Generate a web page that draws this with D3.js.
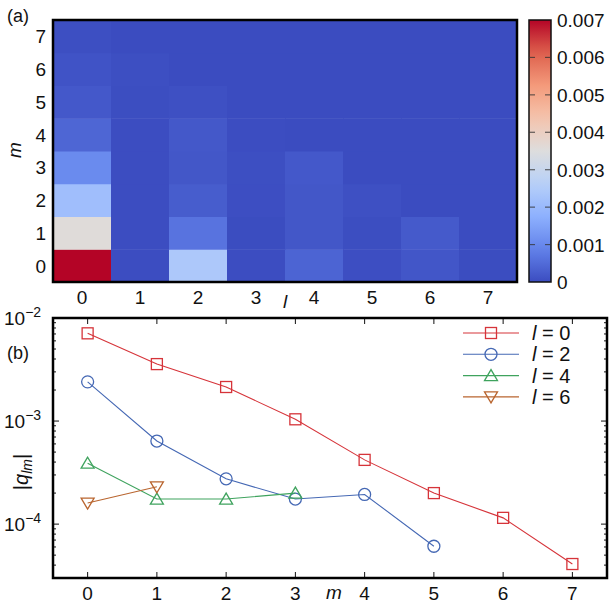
<!DOCTYPE html>
<html>
<head>
<meta charset="utf-8">
<script src="https://cdn.jsdelivr.net/npm/d3@7"></script>
<style>
  body { margin: 0; background: #fff; }
  text { font-family: "Liberation Sans", Arial, sans-serif; fill: #111; }
</style>
</head>
<body>
<div id="chart"></div>
<script>
// ---- data ----
var lValues = [0, 1, 2, 3, 4, 5, 6, 7];
var mValues = [0, 1, 2, 3, 4, 5, 6, 7];

// |q_lm| for even l, index = m
var q_l0 = [7.1e-3, 3.57e-3, 2.14e-3, 1.04e-3, 4.2e-4, 2.0e-4, 1.15e-4, 4.1e-5];
var q_l2 = [2.4e-3, 6.4e-4, 2.75e-4, 1.75e-4, 1.94e-4, 6.1e-5];
var q_l4 = [3.9e-4, 1.75e-4, 1.75e-4, 2.0e-4];
var q_l6 = [1.6e-4, 2.3e-4];
// odd l are tiny (estimated from heat map shades)
var q_l1 = [2e-5, 2e-5, 2e-5, 2e-5, 2e-5, 3e-5, 5e-5];
var q_l3 = [2e-5, 1e-5, 4e-5, 5e-5, 2e-5];
var q_l5 = [4e-5, 3e-5, 6e-5];
var q_l7 = [1e-5];

var colorbarTicks = [0, 0.001, 0.002, 0.003, 0.004, 0.005, 0.006, 0.007];
var logTicks = [1e-4, 1e-3, 1e-2];
var logExps = ["−4", "−3", "−2"];

var series = [
  {l: 0, vals: q_l0, color: "#d6343a", shape: "square"},
  {l: 2, vals: q_l2, color: "#4568b4", shape: "circle"},
  {l: 4, vals: q_l4, color: "#3fa35e", shape: "up"},
  {l: 6, vals: q_l6, color: "#b9652f", shape: "down"}
];

var allRows = [q_l0, q_l1, q_l2, q_l3, q_l4, q_l5, q_l6, q_l7];

var FS = 19;

var svg = d3.select("#chart").append("svg")
  .attr("width", 612).attr("height", 604);

// ---- (a) heat map ----
var hm = {left: 53, right: 517, top: 20, bottom: 282};

var x = d3.scaleBand().domain(lValues).range([hm.left, hm.right]);
var y = d3.scaleBand().domain(mValues).range([hm.bottom, hm.top]);

// matplotlib-style coolwarm
var coolwarm = d3.scaleLinear()
  .domain([0, 0.125, 0.25, 0.375, 0.5, 0.625, 0.75, 0.875, 1])
  .range(["rgb(59,76,192)", "rgb(98,130,234)", "rgb(141,176,254)", "rgb(184,208,249)",
          "rgb(221,221,221)", "rgb(245,196,173)", "rgb(244,154,123)", "rgb(222,96,77)", "rgb(180,4,38)"])
  .interpolate(d3.interpolateRgb)
  .clamp(true);
var color = d3.scaleLinear().domain([0, 0.007]).range([0, 1]).clamp(true);

var cells = [];
lValues.forEach(function(l) {
  mValues.forEach(function(m) {
    var v = allRows[l][m];
    cells.push({l: l, m: m, v: v === undefined ? 0 : v});
  });
});

svg.append("g").selectAll("rect")
  .data(cells)
  .enter().append("rect")
  .attr("x", function(d) { return x(d.l); })
  .attr("y", function(d) { return y(d.m); })
  .attr("width", x.bandwidth() + 0.5)
  .attr("height", y.bandwidth() + 0.5)
  .attr("fill", function(d) { return coolwarm(color(d.v)); });

svg.append("rect")
  .attr("x", hm.left).attr("y", hm.top)
  .attr("width", hm.right - hm.left).attr("height", hm.bottom - hm.top)
  .attr("fill", "none").attr("stroke", "#000").attr("stroke-width", 2.5);

svg.append("g").selectAll("text")
  .data(lValues).enter().append("text")
  .attr("x", function(d) { return x(d) + x.bandwidth() / 2; })
  .attr("y", 304)
  .attr("text-anchor", "middle")
  .attr("font-size", FS)
  .text(function(d) { return d; });

svg.append("g").selectAll("text")
  .data(mValues).enter().append("text")
  .attr("x", 46)
  .attr("y", function(d) { return y(d) + y.bandwidth() / 2 + 7; })
  .attr("text-anchor", "end")
  .attr("font-size", FS)
  .text(function(d) { return d; });

svg.append("text").attr("x", 283).attr("y", 308)
  .attr("font-size", FS).attr("font-style", "italic").text("l");
svg.append("text")
  .attr("transform", "translate(21,150) rotate(-90)")
  .attr("text-anchor", "middle")
  .attr("font-size", FS).attr("font-style", "italic").text("m");
svg.append("text").attr("x", 7).attr("y", 22).attr("font-size", 18).text("(a)");

// colorbar
var cb = {left: 529, right: 551, top: 20, bottom: 282};
var cbScale = d3.scaleLinear().domain([0, 0.007]).range([cb.bottom, cb.top]);
var defs = svg.append("defs");
var grad = defs.append("linearGradient").attr("id", "cw")
  .attr("x1", 0).attr("y1", 1).attr("x2", 0).attr("y2", 0);
d3.range(0, 1.0001, 0.05).forEach(function(t) {
  grad.append("stop").attr("offset", t).attr("stop-color", coolwarm(t));
});
svg.append("rect")
  .attr("x", cb.left).attr("y", cb.top)
  .attr("width", cb.right - cb.left).attr("height", cb.bottom - cb.top)
  .attr("fill", "url(#cw)").attr("stroke", "#111").attr("stroke-width", 1.5);

var cbTicks = svg.append("g");
cbTicks.selectAll("line.l").data(colorbarTicks.slice(1, -1)).enter().append("line")
  .attr("x1", cb.left).attr("x2", cb.left + 6)
  .attr("y1", function(d) { return cbScale(d); }).attr("y2", function(d) { return cbScale(d); })
  .attr("stroke", "#333").attr("stroke-opacity", 0.75).attr("stroke-width", 1.2);
cbTicks.selectAll("line.r").data(colorbarTicks.slice(1, -1)).enter().append("line")
  .attr("x1", cb.right - 6).attr("x2", cb.right)
  .attr("y1", function(d) { return cbScale(d); }).attr("y2", function(d) { return cbScale(d); })
  .attr("stroke", "#333").attr("stroke-opacity", 0.75).attr("stroke-width", 1.2);
cbTicks.selectAll("text").data(colorbarTicks).enter().append("text")
  .attr("x", 557)
  .attr("y", function(d) { return cbScale(d) + 7; })
  .attr("font-size", FS)
  .text(function(d) { return d === 0 ? "0" : d3.format(".3f")(d); });

// ---- (b) log plot ----
var lp = {left: 53, right: 607, top: 318, bottom: 578};
var xm = d3.scaleLinear().domain([-0.5, 7.5]).range([lp.left, lp.right]);
var yq = d3.scaleLog().domain([3e-5, 1e-2]).range([lp.bottom, lp.top]);

// ticks (inward)
var tk = svg.append("g").attr("stroke", "#111").attr("stroke-width", 1);
mValues.forEach(function(m) {
  tk.append("line").attr("x1", xm(m)).attr("x2", xm(m)).attr("y1", lp.bottom).attr("y2", lp.bottom - 6);
  tk.append("line").attr("x1", xm(m)).attr("x2", xm(m)).attr("y1", lp.top).attr("y2", lp.top + 6);
});
var minor = [];
[1e-5, 1e-4, 1e-3].forEach(function(dec) {
  d3.range(2, 10).forEach(function(k) {
    var v = dec * k;
    if (v >= 3e-5 && v < 1e-2) minor.push(v);
  });
});
minor.forEach(function(v) {
  tk.append("line").attr("x1", lp.left).attr("x2", lp.left + 3).attr("y1", yq(v)).attr("y2", yq(v));
  tk.append("line").attr("x1", lp.right - 3).attr("x2", lp.right).attr("y1", yq(v)).attr("y2", yq(v));
});
logTicks.forEach(function(v) {
  tk.append("line").attr("x1", lp.left).attr("x2", lp.left + 6).attr("y1", yq(v)).attr("y2", yq(v));
  tk.append("line").attr("x1", lp.right - 6).attr("x2", lp.right).attr("y1", yq(v)).attr("y2", yq(v));
});

svg.append("g").selectAll("text")
  .data(mValues).enter().append("text")
  .attr("x", function(d) { return xm(d); })
  .attr("y", 600)
  .attr("text-anchor", "middle")
  .attr("font-size", FS)
  .text(function(d) { return d; });

logTicks.forEach(function(v, i) {
  var t = svg.append("text").attr("x", 4).attr("y", yq(v) + 7).attr("font-size", FS);
  t.append("tspan").text("10");
  t.append("tspan").attr("font-size", 14).attr("dy", -8).text(logExps[i]);
});

svg.append("text").attr("x", 326).attr("y", 599)
  .attr("font-size", FS).attr("font-style", "italic").text("m");
var yl = svg.append("text")
  .attr("transform", "translate(28,472) rotate(-90)")
  .attr("text-anchor", "middle").attr("font-size", FS + 1);
yl.append("tspan").text("|");
yl.append("tspan").attr("font-style", "italic").text("q");
yl.append("tspan").attr("font-style", "italic").attr("font-size", 14).attr("dy", 4).text("lm");
yl.append("tspan").attr("dy", -4).text("|");
svg.append("text").attr("x", 7).attr("y", 359).attr("font-size", 18).text("(b)");

var line = d3.line()
  .x(function(d, i) { return xm(i); })
  .y(function(d) { return yq(d); });

function marker(g, shape, cx, cy, c) {
  if (shape === "square") {
    g.append("rect").attr("x", cx - 5.5).attr("y", cy - 5.5).attr("width", 11).attr("height", 11)
      .attr("fill", "none").attr("stroke", c).attr("stroke-width", 1.3);
  } else if (shape === "circle") {
    g.append("circle").attr("cx", cx).attr("cy", cy).attr("r", 6)
      .attr("fill", "none").attr("stroke", c).attr("stroke-width", 1.3);
  } else {
    var s = shape === "up" ? 1 : -1;
    var pts = [[cx, cy - 6 * s], [cx - 6.5, cy + 5 * s], [cx + 6.5, cy + 5 * s]];
    g.append("path").attr("d", "M" + pts.join("L") + "Z")
      .attr("fill", "none").attr("stroke", c).attr("stroke-width", 1.3);
  }
}

series.forEach(function(s) {
  var g = svg.append("g");
  g.append("path").datum(s.vals)
    .attr("d", line)
    .attr("fill", "none").attr("stroke", s.color).attr("stroke-width", 1.1);
  s.vals.forEach(function(v, i) { marker(g, s.shape, xm(i), yq(v), s.color); });
});

// legend
series.forEach(function(s, i) {
  var ly = 333 + i * 21.3;
  var g = svg.append("g");
  g.append("line").attr("x1", 463).attr("x2", 519).attr("y1", ly).attr("y2", ly)
    .attr("stroke", s.color).attr("stroke-width", 1.1);
  marker(g, s.shape, 491, ly, s.color);
  var t = g.append("text").attr("x", 532).attr("y", ly + 7).attr("font-size", FS + 1);
  t.append("tspan").attr("font-style", "italic").text("l");
  t.append("tspan").text(" = " + s.l);
});

svg.append("rect")
  .attr("x", lp.left).attr("y", lp.top)
  .attr("width", lp.right - lp.left).attr("height", lp.bottom - lp.top)
  .attr("fill", "none").attr("stroke", "#000").attr("stroke-width", 2.5);
</script>
</body>
</html>
